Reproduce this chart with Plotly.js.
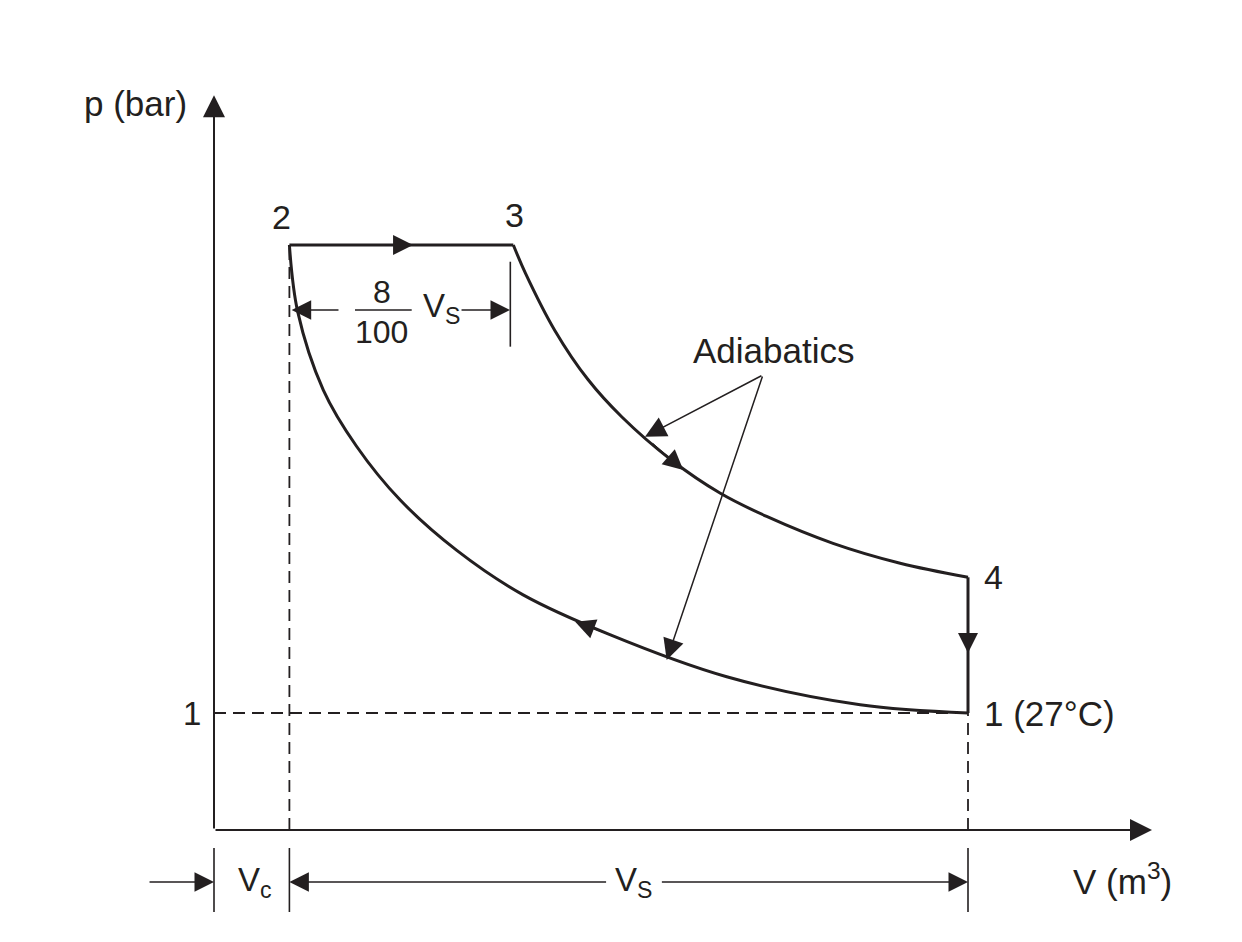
<!DOCTYPE html>
<html>
<head>
<meta charset="utf-8">
<script src="https://cdn.plot.ly/plotly-3.0.1.min.js"></script>
<style>
html,body{margin:0;padding:0;background:#ffffff;}
#chart{width:1242px;height:942px;}
</style>
</head>
<body>
<div id="chart"></div>
<script>
// ---- Data ----
const stateLabels = ['1', '2', '3', '4'];
const stateV = [10.0, 1.0, 3.97, 10.0];   // V at states 1,2,3,4
const stateP = [1.0, 5.0, 5.0, 2.16];     // p (bar) at states 1,2,3,4

// adiabatic compression 1 -> 2
const compressionV = [10.0, 8.57, 6.80, 5.25, 4.10, 3.22, 2.47, 1.89, 1.45, 1.11, 1.0];
const compressionP = [1.0, 1.07, 1.31, 1.67, 2.01, 2.39, 2.82, 3.28, 3.76, 4.43, 5.0];

// adiabatic expansion 3 -> 4
const expansionV = [3.97, 4.13, 4.52, 4.96, 5.41, 6.07, 6.71, 7.33, 8.21, 9.10, 10.0];
const expansionP = [5.0, 4.76, 4.27, 3.85, 3.53, 3.16, 2.88, 2.68, 2.45, 2.28, 2.16];

const yTickValues = [1];
const yTickLabels = ['1'];

// ---- Styling ----
const INK = '#231f20';
const FONT = 'Liberation Sans, Arial, Helvetica, sans-serif';
const FS = 35;
const dash = {color: INK, width: 1.8, dash: '12px,7px'};
const solid = {color: INK, width: 3};

const [V1, V2, V3, V4] = stateV;
const [p1, p2, p3, p4] = stateP;

const traces = [
  {x: [0, V1], y: [p1, p1], mode: 'lines', line: dash},
  {x: [V2, V2], y: [0, p2], mode: 'lines', line: dash},
  {x: [V1, V1], y: [0, p1], mode: 'lines', line: dash},
  {x: [V2, V3], y: [p2, p3], mode: 'lines', line: solid},
  {x: expansionV, y: expansionP, mode: 'lines', line: Object.assign({shape: 'spline', smoothing: 1.0}, solid)},
  {x: [V4, V1], y: [p4, p1], mode: 'lines', line: solid},
  {x: compressionV, y: compressionP, mode: 'lines', line: Object.assign({shape: 'spline', smoothing: 1.0}, solid)}
];

function txt(x, y, text, xanchor, size) {
  return {x: x, y: y, xref: 'x', yref: 'y', text: text, showarrow: false,
          xanchor: xanchor || 'center', yanchor: 'middle',
          font: {family: FONT, size: size || FS, color: INK}};
}
function arrow(x, y, ax, ay, width, size) {
  return {x: x, y: y, ax: ax, ay: ay, xref: 'x', yref: 'y', axref: 'x', ayref: 'y',
          text: '', showarrow: true, arrowhead: 2, arrowwidth: width, arrowsize: size,
          arrowcolor: INK, standoff: 0, startstandoff: 0};
}
function seg(x0, y0, x1, y1, w) {
  return {type: 'line', xref: 'x', yref: 'y', x0: x0, y0: y0, x1: x1, y1: y1,
          line: {color: INK, width: w || 1.6}};
}

const annotations = [
  // axes
  arrow(0, 6.28, 0, 0, 2, 2.2),
  arrow(12.44, 0, 0, 0, 2, 2.2),
  txt(-1.04, 6.21, 'p (bar)'),
  txt(12.05, -0.42, 'V (m<sup>3</sup>)'),
  txt(-0.14, yTickValues[0], yTickLabels[0], 'right', 33),
  // state labels
  txt(V2 - 0.1, p2 + 0.24, stateLabels[1], 'center', 34),
  txt(V3 + 0.02, p3 + 0.26, stateLabels[2], 'center', 34),
  txt(V4 + 0.19, p4 + 0.0, stateLabels[3], 'left', 34),
  txt(V1 + 0.18, p1, stateLabels[0] + ' (27°C)', 'left'),
  // cycle direction arrows
  arrow(2.64, p2, 2.25, p2, 1, 4.0),
  arrow(6.224, 3.077, 5.80, 3.316, 1, 4.0),
  arrow(V1, 1.513, V1, 1.80, 1, 4.0),
  arrow(4.79, 1.78, 5.30, 1.655, 1, 4.0),
  // Adiabatics annotation
  txt(7.42, 4.10, 'Adiabatics'),
  arrow(5.716, 3.362, 7.28, 3.889, 1.5, 2.8),
  arrow(6.004, 1.453, 7.28, 3.889, 1.5, 2.8),
  // 8/100 Vs dimension
  txt(2.224, 4.60, '8', 'center', 32),
  txt(2.224, 4.255, '100', 'center', 32),
  txt(2.74, 4.46, 'V<sub>S</sub>', 'left', 33),
  arrow(1.03, 4.444, 1.671, 4.444, 1.5, 2.6),
  arrow(3.926, 4.444, 3.263, 4.444, 1.5, 2.6),
  // bottom dimension line
  arrow(0, -0.444, -0.875, -0.444, 1.5, 2.6),
  arrow(V2, -0.444, 5.22, -0.444, 1.5, 2.6),
  arrow(V1, -0.444, 5.92, -0.444, 1.5, 2.6),
  txt(0.54, -0.444, 'V<sub>c</sub>', 'center', 33),
  txt(5.57, -0.444, 'V<sub>S</sub>', 'center', 33)
];

const shapes = [
  seg(1.87, 4.444, 2.622, 4.444, 1.6),
  seg(3.93, 4.857, 3.93, 4.131, 1.6),
  seg(0, -0.154, 0, -0.701, 1.6),
  seg(V2, -0.154, V2, -0.701, 1.6),
  seg(V1, -0.154, V1, -0.701, 1.6)
];

const layout = {
  width: 1242, height: 942,
  margin: {l: 0, r: 0, t: 0, b: 0},
  paper_bgcolor: '#ffffff', plot_bgcolor: '#ffffff',
  showlegend: false,
  xaxis: {range: [-214 / 75.4, (1242 - 214) / 75.4], visible: false, fixedrange: true},
  yaxis: {range: [(830 - 942) / 117, 830 / 117], visible: false, fixedrange: true},
  annotations: annotations,
  shapes: shapes,
  hovermode: false
};

Plotly.newPlot('chart', traces, layout, {displayModeBar: false, staticPlot: true});
</script>
</body>
</html>
